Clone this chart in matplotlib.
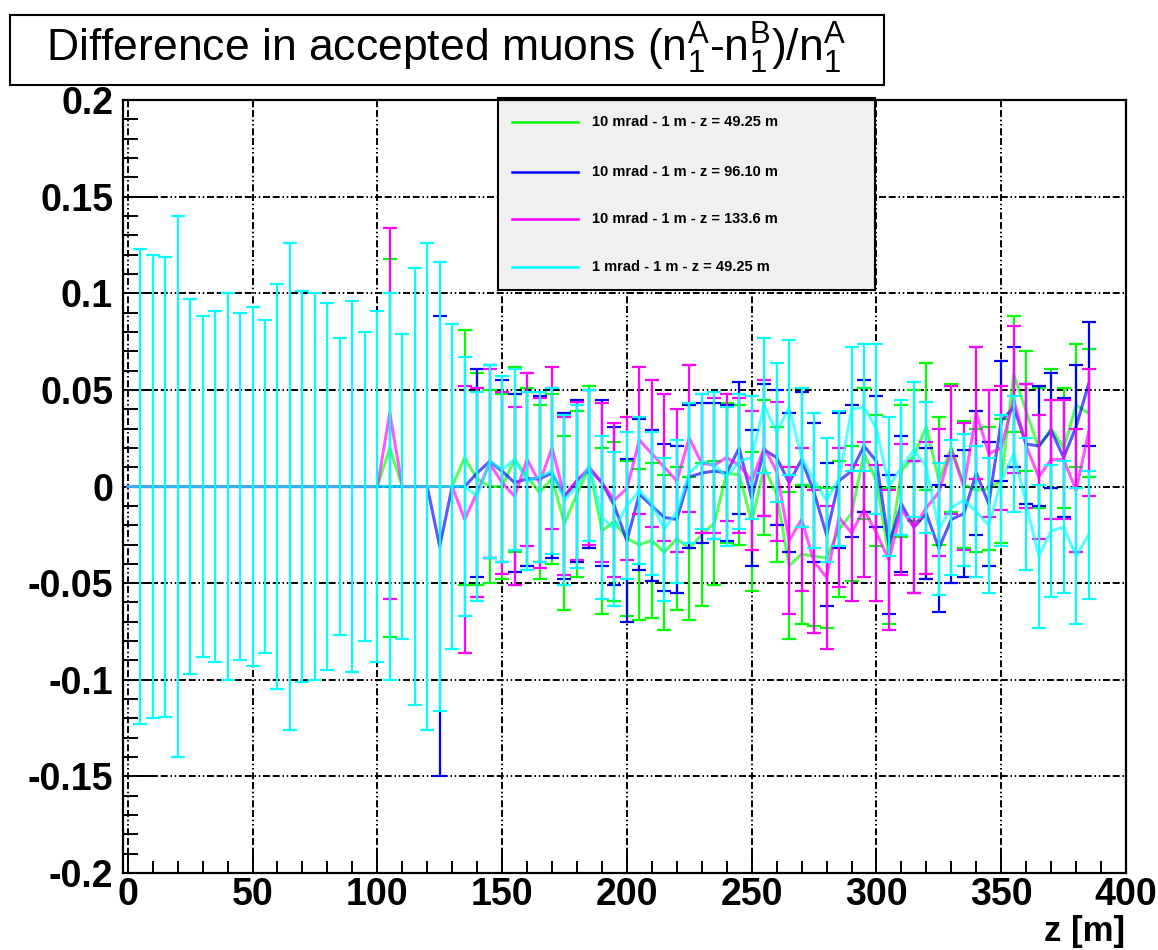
"""Relative difference of accepted muons along z for four collimator setups."""
import matplotlib

matplotlib.use("Agg")
import matplotlib.pyplot as plt
from matplotlib import font_manager
from matplotlib.lines import Line2D
from matplotlib.patches import Rectangle
from matplotlib.ticker import MultipleLocator

_names = {f.name for f in font_manager.fontManager.ttflist}
FONT = "Liberation Sans Narrow" if "Liberation Sans Narrow" in _names else "Liberation Sans"

plt.rcParams["font.family"] = [FONT, "DejaVu Sans"]
plt.rcParams["mathtext.fontset"] = "custom"
plt.rcParams["mathtext.rm"] = FONT
plt.rcParams["mathtext.it"] = FONT
plt.rcParams["mathtext.bf"] = FONT + ":bold"

# z positions of the scoring planes [m]
Z = [0, 5, 10, 15, 20, 25, 30, 35, 40, 45,
     50, 55, 60, 65, 70, 75, 80, 85, 90, 95,
     100, 105, 110, 115, 120, 125, 130, 135, 140, 145,
     150, 155, 160, 165, 170, 175, 180, 185, 190, 195,
     200, 205, 210, 215, 220, 225, 230, 235, 240, 245,
     250, 255, 260, 265, 270, 275, 280, 285, 290, 295,
     300, 305, 310, 315, 320, 325, 330, 335, 340, 345,
     350, 355, 360, 365, 370, 375, 380, 385]

# 10 mrad - 1 m - z = 49.25 m
GREEN_VAL = [0, 0, 0, 0, 0, 0, 0, 0, 0, 0,
             0, 0, 0, 0, 0, 0, 0, 0, 0, 0,
             0, 0.020, 0, 0, 0, 0, 0, 0.015, 0.004, 0.000,
             0.000, 0.014, 0.005, -0.003, 0.004, -0.019, -0.004, 0.010, -0.023, -0.018,
             -0.027, -0.030, -0.028, -0.034, -0.027, -0.032, -0.025, -0.019, 0.007, 0.006,
             -0.018, 0.010, -0.004, -0.041, -0.035, -0.036, -0.037, -0.022, -0.014, 0.017,
             0.003, -0.036, 0.008, 0.016, 0.031, 0.003, 0.020, 0.001, -0.002, -0.001,
             0.003, 0.058, 0.039, 0.020, 0.030, 0.020, 0.042, 0.038]
GREEN_ERR = [0, 0, 0, 0, 0, 0, 0, 0, 0, 0,
             0, 0, 0, 0, 0, 0, 0, 0, 0, 0,
             0, 0.098, 0, 0, 0, 0, 0, 0.066, 0.055, 0.050,
             0.048, 0.048, 0.046, 0.045, 0.044, 0.045, 0.043, 0.042, 0.043, 0.041,
             0.040, 0.039, 0.040, 0.040, 0.037, 0.037, 0.037, 0.032, 0.036, 0.036,
             0.036, 0.035, 0.035, 0.038, 0.036, 0.036, 0.036, 0.035, 0.035, 0.034,
             0.034, 0.035, 0.034, 0.034, 0.033, 0.033, 0.033, 0.033, 0.032, 0.032,
             0.032, 0.030, 0.031, 0.031, 0.031, 0.031, 0.032, 0.033]

# 10 mrad - 1 m - z = 96.10 m
BLUE_VAL = [0, 0, 0, 0, 0, 0, 0, 0, 0, 0,
            0, 0, 0, 0, 0, 0, 0, 0, 0, 0,
            0, 0, 0, 0, 0, -0.031, 0, 0, 0.007, 0.013,
            0.008, 0.002, 0.004, 0.004, 0.007, -0.005, 0.003, 0.009, 0.002, -0.010,
            -0.028, -0.004, -0.010, -0.016, -0.017, 0.005, 0.007, 0.008, 0.007, 0.020,
            -0.006, 0.019, 0.015, 0.002, 0.014, -0.003, -0.025, 0.003, 0.008, 0.021,
            0.013, -0.030, -0.009, -0.021, -0.014, -0.032, -0.017, -0.014, 0.007, -0.009,
            0.034, 0.041, 0.022, 0.021, 0.029, 0.015, 0.031, 0.053]
BLUE_ERR = [0, 0, 0, 0, 0, 0, 0, 0, 0, 0,
            0, 0, 0, 0, 0, 0, 0, 0, 0, 0,
            0, 0, 0, 0, 0, 0.119, 0, 0, 0.054, 0.050,
            0.047, 0.046, 0.045, 0.043, 0.044, 0.043, 0.042, 0.041, 0.043, 0.041,
            0.042, 0.039, 0.039, 0.038, 0.038, 0.037, 0.036, 0.035, 0.035, 0.034,
            0.035, 0.034, 0.035, 0.036, 0.035, 0.036, 0.037, 0.035, 0.034, 0.034,
            0.034, 0.036, 0.035, 0.034, 0.034, 0.033, 0.033, 0.033, 0.032, 0.032,
            0.031, 0.031, 0.031, 0.031, 0.030, 0.031, 0.032, 0.032]

# 10 mrad - 1 m - z = 133.6 m
MAGENTA_VAL = [0, 0, 0, 0, 0, 0, 0, 0, 0, 0,
               0, 0, 0, 0, 0, 0, 0, 0, 0, 0,
               0, 0.038, 0, 0, 0, 0, 0, -0.017, -0.003, 0.012,
               0.002, -0.005, 0.014, 0.002, 0.020, -0.005, 0.003, 0.010, 0.002, -0.007,
               -0.001, 0.024, 0.017, 0.010, 0.003, 0.025, 0.012, 0.011, 0.015, 0.011,
               0.003, 0.020, 0.008, -0.028, -0.017, -0.039, -0.047, -0.016, -0.024, -0.012,
               -0.024, -0.038, -0.012, -0.021, -0.011, -0.003, 0.019, 0.000, 0.038, 0.017,
               0.020, 0.045, 0.021, 0.005, 0.014, 0.014, -0.002, 0.028]
MAGENTA_ERR = [0, 0, 0, 0, 0, 0, 0, 0, 0, 0,
               0, 0, 0, 0, 0, 0, 0, 0, 0, 0,
               0, 0.096, 0, 0, 0, 0, 0, 0.069, 0.054, 0.049,
               0.047, 0.046, 0.045, 0.044, 0.042, 0.041, 0.041, 0.040, 0.041, 0.040,
               0.037, 0.038, 0.038, 0.038, 0.037, 0.038, 0.036, 0.035, 0.033, 0.035,
               0.036, 0.035, 0.036, 0.038, 0.037, 0.037, 0.037, 0.036, 0.035, 0.035,
               0.035, 0.036, 0.034, 0.034, 0.034, 0.033, 0.033, 0.033, 0.034, 0.033,
               0.032, 0.038, 0.032, 0.032, 0.031, 0.031, 0.032, 0.033]

# 1 mrad - 1 m - z = 49.25 m
CYAN_VAL = [0, 0, 0, 0, 0, 0, 0, 0, 0, 0,
            0, 0, 0, 0, 0, 0, 0, 0, 0, 0,
            0, 0, 0, 0, 0, 0, 0, 0, -0.005, 0.013,
            0.009, 0.014, 0.003, 0.005, 0.008, -0.007, 0.000, 0.011, -0.016, -0.022,
            -0.010, -0.002, -0.009, -0.022, -0.013, 0.007, 0.013, 0.011, 0.005, 0.013,
            0.015, 0.042, 0.028, 0.041, 0.015, 0.003, -0.007, 0.004, 0.040, 0.041,
            0.030, 0.000, 0.010, 0.019, 0.010, -0.022, -0.011, -0.007, -0.013, -0.020,
            0.003, 0.017, -0.009, -0.036, -0.023, -0.021, -0.036, -0.025]
CYAN_ERR = [0, 0.123, 0.120, 0.119, 0.140, 0.097, 0.088, 0.091, 0.100, 0.090,
            0.093, 0.086, 0.105, 0.126, 0.101, 0.100, 0.095, 0.077, 0.096, 0.080,
            0.091, 0.100, 0.079, 0.113, 0.126, 0.116, 0.084, 0.067, 0.054, 0.050,
            0.048, 0.047, 0.046, 0.044, 0.043, 0.044, 0.042, 0.039, 0.042, 0.040,
            0.038, 0.038, 0.037, 0.037, 0.037, 0.036, 0.035, 0.038, 0.036, 0.035,
            0.032, 0.035, 0.036, 0.035, 0.036, 0.035, 0.032, 0.035, 0.032, 0.033,
            0.044, 0.036, 0.035, 0.035, 0.034, 0.034, 0.035, 0.034, 0.034, 0.035,
            0.034, 0.030, 0.034, 0.037, 0.034, 0.034, 0.035, 0.033]

SERIES = [
    ("10 mrad - 1 m - z = 49.25 m", "#00ff00", GREEN_VAL, GREEN_ERR),
    ("10 mrad - 1 m - z = 96.10 m", "#0000ff", BLUE_VAL, BLUE_ERR),
    ("10 mrad - 1 m - z = 133.6 m", "#ff00ff", MAGENTA_VAL, MAGENTA_ERR),
    ("1 mrad - 1 m - z = 49.25 m", "#00ffff", CYAN_VAL, CYAN_ERR),
]

# long dash, dash, dot, dot -- dash lengths are scaled by the line width
GRID_DASH = (0, (3.6, 1.4, 3.6, 1.4, 0.8, 1.4, 0.8, 1.4))


def draw_series(ax, color, vals, errs, z0):
    ax.plot(Z, vals, color=color, lw=2.2, alpha=0.65, zorder=z0)
    zs = [z for z, e in zip(Z, errs) if e > 0]
    vs = [v for v, e in zip(vals, errs) if e > 0]
    es = [e for e in errs if e > 0]
    ax.errorbar(zs, vs, yerr=es, fmt="none", ecolor=color, elinewidth=1.6,
                capsize=5, capthick=1.6, zorder=z0 + 0.5)


def draw_legend(ax):
    box = Rectangle((0.374, 0.754), 0.376, 0.249, transform=ax.transAxes,
                    facecolor="#f0f0f0", edgecolor="black", lw=1.5,
                    zorder=20, clip_on=False)
    ax.add_patch(box)
    rows = [0.9715, 0.907, 0.846, 0.784]
    for (label, color, _, _), y in zip(SERIES, rows):
        ax.add_line(Line2D([0.388, 0.454], [y, y], color=color, lw=1.8,
                           transform=ax.transAxes, zorder=21))
        ax.text(0.468, y, label, transform=ax.transAxes, ha="left",
                va="center", fontsize=10.5, fontweight="bold", zorder=21)


def main():
    fig = plt.figure(figsize=(11.58, 9.5), dpi=100)
    ax = fig.add_axes([0.106, 0.081, 0.8664, 0.8137])
    ax.set_xlim(-2, 400)
    ax.set_ylim(-0.2, 0.2)

    for i, (label, color, vals, errs) in enumerate(SERIES):
        draw_series(ax, color, vals, errs, 3 + i)

    ax.xaxis.set_major_locator(MultipleLocator(50))
    ax.xaxis.set_minor_locator(MultipleLocator(10))
    ax.yaxis.set_major_locator(MultipleLocator(0.05))
    ax.yaxis.set_minor_locator(MultipleLocator(0.01))
    ax.set_yticks(ax.get_yticks())
    ax.set_yticklabels([f"{t:g}" for t in ax.get_yticks()])
    ax.set_ylim(-0.2, 0.2)
    ax.grid(which="major", color="black", lw=1.4, linestyle=GRID_DASH, zorder=1)
    ax.set_axisbelow(True)

    ax.tick_params(which="both", direction="in", top=False, right=False,
                   width=1.4, labelsize=27)
    ax.tick_params(axis="y", which="major", length=22, pad=7)
    ax.tick_params(axis="y", which="minor", length=11)
    ax.tick_params(axis="x", which="major", length=18, pad=3)
    ax.tick_params(axis="x", which="minor", length=9)
    for lab in ax.get_xticklabels() + ax.get_yticklabels():
        lab.set_fontweight("bold")
    for sp in ax.spines.values():
        sp.set_linewidth(1.6)
        sp.set_zorder(30)

    draw_legend(ax)

    fig.text(0.972, 0.002, "z [m]", ha="right", va="bottom",
             fontsize=25, fontweight="bold")

    # title pave
    fig.add_artist(Rectangle((0.0086, 0.9105), 0.755, 0.0737,
                             transform=fig.transFigure, facecolor="white",
                             edgecolor="black", lw=1.5))
    title = (r"Difference in accepted muons ($\mathrm{n}_1^\mathrm{A}$"
             r"-$\mathrm{n}_1^\mathrm{B}$)/$\mathrm{n}_1^\mathrm{A}$")
    fig.text(0.385, 0.935, title, ha="center", va="baseline", fontsize=32)

    fig.savefig("out.png", dpi=100, facecolor="white")


if __name__ == "__main__":
    main()
